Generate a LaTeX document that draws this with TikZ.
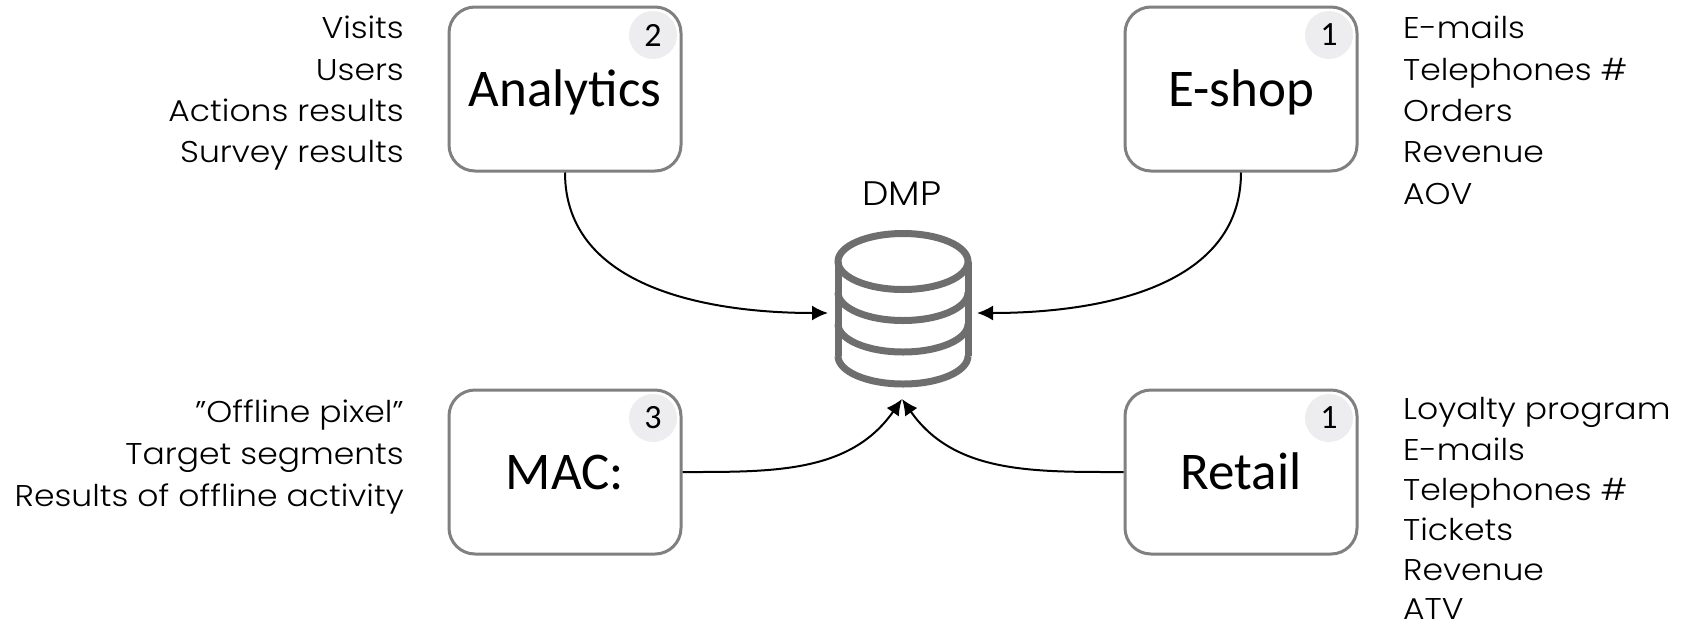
\documentclass[tikz,border=0pt]{standalone}
\usepackage{fontspec}
\setmainfont{Poppins}[UprightFont=* Light, FakeStretch=1.1]
\newfontfamily\calfont{Carlito}
\usetikzlibrary{arrows.meta}
\definecolor{boxgray}{HTML}{808080}
\definecolor{badgegray}{HTML}{EDEDEF}
\definecolor{cylgray}{HTML}{6E6E6E}
\begin{document}
\begin{tikzpicture}[x=1pt,y=-1pt,
  srcbox/.style={draw=boxgray, line width=3pt, rounded corners=26pt,
    minimum width=232pt, minimum height=164pt, fill=white, inner sep=0pt,
    text height=34pt, text depth=0pt, font=\calfont\fontsize{53}{60}\selectfont},
  badge/.style={circle, fill=badgegray, minimum size=48pt, inner sep=0pt,
    font=\calfont\fontsize{34}{36}\selectfont},
  litem/.style={inner sep=0pt, font=\fontsize{30}{34}\selectfont},
  flow/.style={line width=2pt, -{Latex[length=16pt,width=15pt]}},
  cyl/.style={draw=cylgray, line width=7pt}
]
\useasboundingbox (0,0) rectangle (1683,627);

% boxes
\node[srcbox] (an) at (565,89) {Analytics};
\node[srcbox] (es) at (1241,89) {E-shop};
\node[srcbox] (mac) at (565,472) {MAC:};
\node[srcbox] (rt) at (1241,472) {Retail};

% badges
\node[badge] (anb) at (653,35) {2};
\node[badge] (esb) at (1329,35) {1};
\node[badge] (macb) at (653,418) {3};
\node[badge] (rtb) at (1329,418) {1};

% DMP
\node[inner sep=0pt, anchor=base, font=\fontsize{34}{38}\selectfont] (dmp) at (902,205) {DMP};
\draw[cyl] (903,261.5) ellipse [x radius=65, y radius=28];
\draw[cyl] (838,261.5) -- (838,356);
\draw[cyl] (968,261.5) -- (968,356);
\draw[cyl] (838,292.5) arc[start angle=180, end angle=0, x radius=65, y radius=28];
\draw[cyl] (838,324) arc[start angle=180, end angle=0, x radius=65, y radius=28];
\draw[cyl] (838,356) arc[start angle=180, end angle=0, x radius=65, y radius=28];
\coordinate (inl) at (828,313);
\coordinate (inr) at (977,313);
\coordinate (inb) at (902,399);

% connectors
\draw[flow] (an.south) to[out=-90, in=180] (inl);
\draw[flow] (es.south) to[out=-90, in=0] (inr);
\draw[flow] (mac.east) to[out=0, in=-125] (inb);
\draw[flow] (rt.west) to[out=180, in=-55] (inb);

% lists left
\node[litem, anchor=base east] (a1) at (404,38) {Visits};
\node[litem, anchor=base east] (a2) at (404,80) {Users};
\node[litem, anchor=base east] (a3) at (404,121) {Actions results};
\node[litem, anchor=base east] (a4) at (404,162) {Survey results};

\node[litem, anchor=base east] (m1) at (404,422) {"Offline pixel"};
\node[litem, anchor=base east] (m2) at (404,464) {Target segments};
\node[litem, anchor=base east] (m3) at (404,506) {Results of offline activity};

% lists right
\node[litem, anchor=base west] (e1) at (1403,38) {E-mails};
\node[litem, anchor=base west] (e2) at (1403,80) {Telephones \#};
\node[litem, anchor=base west] (e3) at (1403,121) {Orders};
\node[litem, anchor=base west] (e4) at (1403,162) {Revenue};
\node[litem, anchor=base west] (e5) at (1403,204) {AOV};

\node[litem, anchor=base west] (r1) at (1403,419) {Loyalty program};
\node[litem, anchor=base west] (r2) at (1403,460) {E-mails};
\node[litem, anchor=base west] (r3) at (1403,500) {Telephones \#};
\node[litem, anchor=base west] (r4) at (1403,540) {Tickets};
\node[litem, anchor=base west] (r5) at (1403,580) {Revenue};
\node[litem, anchor=base west] (r6) at (1403,619) {ATV};
\end{tikzpicture}
\end{document}
